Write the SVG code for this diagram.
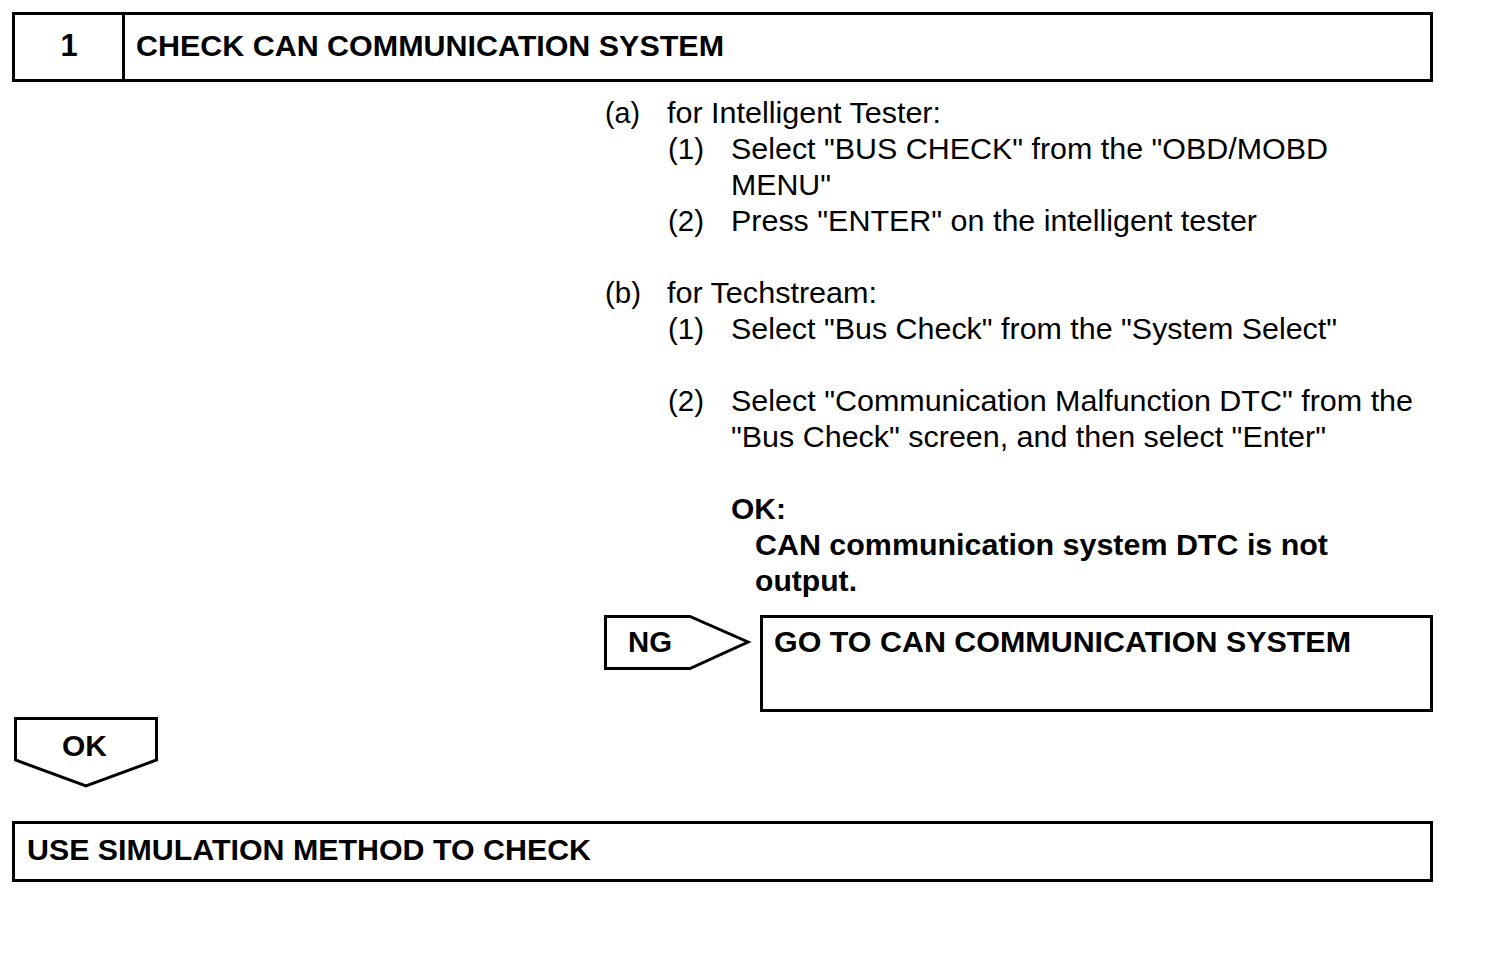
<svg xmlns="http://www.w3.org/2000/svg" width="1504" height="960" viewBox="0 0 1504 960">
<style>
.box{fill:#fff;stroke:#000;stroke-width:3}
.b{font-family:"Liberation Sans",Arial,sans-serif;font-weight:bold;font-size:29px;fill:#000}
.r{font-family:"Liberation Sans",Arial,sans-serif;font-size:29px;fill:#000}
</style>
<rect width="1504" height="960" fill="#fff"/>
<g id="header">
<rect class="box" x="13.5" y="13.5" width="1418" height="67"/>
<line x1="123.5" y1="13.5" x2="123.5" y2="80.5" stroke="#000" stroke-width="3"/>
<text class="b" x="69" y="56" text-anchor="middle" style="font-size:31px">1</text>
<text class="b" x="136" y="56" textLength="588" lengthAdjust="spacingAndGlyphs">CHECK CAN COMMUNICATION SYSTEM</text>
</g>
<g id="instructions">
<text class="r" x="605" y="123" textLength="35" lengthAdjust="spacingAndGlyphs">(a)</text><text class="r" x="667" y="123" textLength="274" lengthAdjust="spacingAndGlyphs">for Intelligent Tester:</text>
<text class="r" x="668" y="159" textLength="36" lengthAdjust="spacingAndGlyphs">(1)</text><text class="r" x="731" y="159" textLength="597" lengthAdjust="spacingAndGlyphs">Select "BUS CHECK" from the "OBD/MOBD</text>
<text class="r" x="731" y="195" textLength="100" lengthAdjust="spacingAndGlyphs">MENU"</text>
<text class="r" x="668" y="231" textLength="36" lengthAdjust="spacingAndGlyphs">(2)</text><text class="r" x="731" y="231" textLength="526" lengthAdjust="spacingAndGlyphs">Press "ENTER" on the intelligent tester</text>
<text class="r" x="605" y="303" textLength="36" lengthAdjust="spacingAndGlyphs">(b)</text><text class="r" x="667" y="303" textLength="210" lengthAdjust="spacingAndGlyphs">for Techstream:</text>
<text class="r" x="668" y="339" textLength="36" lengthAdjust="spacingAndGlyphs">(1)</text><text class="r" x="731" y="339" textLength="606" lengthAdjust="spacingAndGlyphs">Select "Bus Check" from the "System Select"</text>
<text class="r" x="668" y="411" textLength="36" lengthAdjust="spacingAndGlyphs">(2)</text><text class="r" x="731" y="411" textLength="682" lengthAdjust="spacingAndGlyphs">Select "Communication Malfunction DTC" from the</text>
<text class="r" x="731" y="447" textLength="595" lengthAdjust="spacingAndGlyphs">"Bus Check" screen, and then select "Enter"</text>
<text class="b" x="731" y="519" textLength="55" lengthAdjust="spacingAndGlyphs">OK:</text>
<text class="b" x="755" y="555" textLength="573" lengthAdjust="spacingAndGlyphs">CAN communication system DTC is not</text>
<text class="b" x="755" y="591" textLength="102" lengthAdjust="spacingAndGlyphs">output.</text>
</g>
<g id="ng">
<polygon class="box" points="605.5,616.5 690,616.5 748,642 690,668.5 605.5,668.5"/>
<text class="b" x="628" y="652" textLength="44" lengthAdjust="spacingAndGlyphs">NG</text>
</g>
<g id="goto">
<rect class="box" x="761.5" y="616.5" width="670" height="94"/>
<text class="b" x="774" y="652" textLength="577" lengthAdjust="spacingAndGlyphs">GO TO CAN COMMUNICATION SYSTEM</text>
</g>
<g id="ok">
<polygon class="box" points="15.5,718.5 156.5,718.5 156.5,760 86,786 15.5,760"/>
<text class="b" x="62" y="756" textLength="45" lengthAdjust="spacingAndGlyphs">OK</text>
</g>
<g id="simulation">
<rect class="box" x="13.5" y="822.5" width="1418" height="58"/>
<text class="b" x="27" y="860" textLength="564" lengthAdjust="spacingAndGlyphs">USE SIMULATION METHOD TO CHECK</text>
</g>
<g id="connectors"/>
</svg>
